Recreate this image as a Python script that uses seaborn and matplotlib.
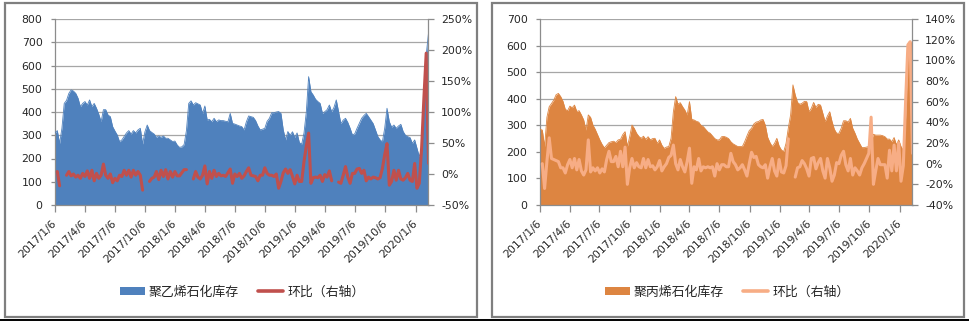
import numpy as np
import pandas as pd
import matplotlib
matplotlib.use('Agg')
import matplotlib.pyplot as plt
import seaborn as sns
from matplotlib.patches import Patch, Rectangle
from matplotlib.lines import Line2D
from matplotlib.ticker import FuncFormatter, MultipleLocator

nan = np.nan

# weekly observation dates (Fridays)
dates = pd.date_range('2017-01-06', periods=163, freq='7D')

tick_labels = ['2017/1/6', '2017/4/6', '2017/7/6', '2017/10/6', '2018/1/6', '2018/4/6',
               '2018/7/6', '2018/10/6', '2019/1/6', '2019/4/6', '2019/7/6', '2019/10/6', '2020/1/6']

pe_stock = [310, 320, 265, 330, 437, 450, 480, 495, 490, 480,
            459, 423, 437, 445, 430, 452, 423, 437, 416, 390,
            358, 410, 410, 387, 380, 337, 318, 301, 272, 280,
            295, 310, 320, 305, 320, 310, 323, 330, 262, 315,
            344, 320, 312, 305, 291, 297, 291, 297, 287, 287,
            280, 273, 275, 258, 248, 250, 260, 320, 437, 448,
            430, 440, 435, 430, 394, 426, 366, 368, 358, 373,
            358, 366, 363, 363, 360, 358, 394, 351, 348, 344,
            340, 337, 323, 358, 383, 380, 377, 363, 340, 323,
            326, 330, 360, 373, 397, 397, 400, 402, 394, 323,
            280, 316, 300, 315, 291, 310, 268, 262, 310, 400,
            552, 487, 473, 455, 445, 437, 394, 401, 410, 430,
            401, 420, 452, 401, 350, 365, 373, 355, 330, 301,
            306, 330, 351, 373, 385, 394, 380, 365, 350, 323,
            295, 280, 272, 330, 416, 358, 335, 344, 330, 340,
            347, 316, 300, 294, 290, 265, 280, 244, 208, 244,
            459, 645, 740]

pe_ratio = [nan, 4, -19, nan, nan, -2, 4, -3, 0, -5,
            -2, -7, 1, -4, 5, -7, 6, -11, 1, -7,
            -2, 16, -2, -7, 0, -14, -7, -11, -2, -4,
            6, -2, 6, -5, 6, -2, 4, -2, -26, nan,
            nan, -12, -7, -5, 4, -9, 6, -4, 7, -8,
            4, -5, 4, -3, -3, 2, 7, 7, nan, nan,
            -8, 4, -5, -8, -2, 13, -16, 4, -7, 6,
            -4, 1, -3, -2, -4, 2, 8, -15, 0, -4,
            1, -7, -3, 4, 10, -2, -3, -4, -11, -2,
            -2, 10, 1, -2, -2, -4, 0, -23, -12, 2,
            8, 1, 7, -4, -16, -2, -12, -12, 20, 45,
            66, -15, -6, -5, -6, -2, -12, -1, -5, 5,
            -11, nan, nan, -13, -15, -2, 12, -5, -15, 1,
            1, 8, 9, 1, 6, -11, -5, -8, -5, -6,
            -8, -6, 9, 31, 49, -18, -12, 6, -10, 6,
            -8, -10, -6, 1, -10, -12, 17, -23, -15, 41,
            122, 195, 17]

pp_stock = [285, 282, 220, 330, 370, 382, 395, 415, 420, 408,
            390, 360, 355, 372, 366, 376, 352, 355, 339, 320,
            282, 339, 330, 301, 285, 265, 245, 228, 215, 225,
            235, 238, 240, 235, 245, 247, 265, 276, 220, 257,
            301, 288, 270, 258, 251, 259, 247, 257, 245, 250,
            251, 232, 245, 225, 213, 218, 220, 251, 351, 408,
            380, 385, 370, 357, 339, 389, 322, 320, 315, 312,
            300, 295, 285, 275, 270, 260, 250, 245, 245, 257,
            258, 255, 250, 238, 230, 225, 220, 220, 220, 238,
            260, 280, 289, 305, 312, 314, 320, 322, 300, 255,
            235, 220, 232, 251, 222, 207, 201, 232, 290, 340,
            452, 414, 386, 379, 383, 390, 389, 351, 364, 386,
            367, 379, 376, 345, 314, 335, 351, 314, 285, 270,
            270, 289, 317, 317, 312, 326, 289, 270, 248, 232,
            216, 216, 218, 220, 238, 266, 263, 263, 263, 261,
            257, 248, 248, 238, 254, 226, 245, 220, 205, 330,
            580, 615, 608]

pp_ratio = [nan, 0, -24, 2, 25, 5, 4, 3, 2, -4,
            -4, -9, -1, 4, -4, 5, -6, 4, -7, -11,
            -6, 23, -8, -4, -7, -4, -9, -5, -8, 4,
            12, 2, 2, 7, -3, 12, -3, 16, -20, -4,
            5, -4, 1, -3, -4, 5, -4, 4, -3, -2,
            -6, -3, 3, -7, -3, 0, 6, 8, 18, 0,
            -6, 4, -3, -8, 2, 15, -19, -3, -6, 5,
            -7, -3, -4, -3, -4, -3, -12, 0, -6, -1,
            -1, -3, -3, 10, 2, -1, -6, -4, -1, -6,
            -12, 0, 11, 6, 7, -1, -3, -4, -1, -14,
            -3, 5, -7, -12, 4, -8, -9, -2, 24, nan,
            nan, -13, -4, -3, 3, 0, -5, -12, 5, 6,
            -5, 1, 5, -7, -14, 5, -4, -17, -11, 1,
            0, 8, 12, -1, -7, 5, -11, -4, -7, -11,
            -4, 0, 5, 10, 45, -20, -7, 5, -1, -1,
            -1, -14, 13, -7, 18, -7, 20, -17, -2, 60,
            115, 118, 10]

sns.set_theme(style='white')
plt.rcParams['font.family'] = ['DejaVu Sans', 'Noto Sans CJK SC']
CJK = ['Noto Sans CJK SC', 'DejaVu Sans']

W, H = 970, 322
fig = plt.figure(figsize=(W / 100, H / 100), dpi=100)
fig.patch.set_facecolor('white')

GRID = '#a6a6a6'
AXC = '#8c8c8c'
TXT = '#262626'


def panel(x0, x1, stock, ratio, area_c, line_c, ymax, rmin, rmax, rstep,
          stock_name, ratio_name, leg_x):
    rect = [x0 / W, 1 - 205 / H, (x1 - x0) / W, (205 - 19) / H]
    ax = fig.add_axes(rect)
    df = pd.DataFrame({'date': dates, 'stock': stock, 'ratio': ratio})
    ax.fill_between(df['date'], df['stock'], 0, color=area_c, lw=0, zorder=2)
    sns.lineplot(data=df, x='date', y='stock', ax=ax, color=area_c, lw=0.6, zorder=3)
    ax.set_ylim(0, ymax)
    ax.yaxis.set_major_locator(MultipleLocator(100))
    ax.set_xlim(dates[0], dates[-1])
    ax.yaxis.grid(True, color=GRID, lw=0.9)
    ax.xaxis.grid(False)
    ax.set_axisbelow(True)
    ax.set_xlabel('')
    ax.set_ylabel('')
    tick_dates = pd.to_datetime([s.replace('/', '-') for s in tick_labels], format='%Y-%m-%d')
    ax.set_xticks(tick_dates)
    ax.set_xticklabels(tick_labels, rotation=45, ha='right', va='center',
                       rotation_mode='anchor', fontsize=7.8, color=TXT)
    ax.tick_params(axis='x', length=5, width=0.9, color=AXC, direction='out', pad=7, bottom=True)
    ax.tick_params(axis='y', length=3, width=0.9, color=AXC, direction='out', pad=6,
                   labelsize=7.8, labelcolor=TXT, left=True)
    for s in ['top', 'right']:
        ax.spines[s].set_visible(False)
    for s in ['left', 'bottom']:
        ax.spines[s].set_color(AXC)
        ax.spines[s].set_linewidth(0.9)

    ax2 = ax.twinx()
    seg = df['ratio'].isna().cumsum()
    ldf = df.assign(seg=seg).dropna(subset=['ratio'])
    sns.lineplot(data=ldf, x='date', y='ratio', units='seg', estimator=None,
                 ax=ax2, color=line_c, lw=2.2, legend=False)
    ax2.set_ylim(rmin, rmax)
    ax2.yaxis.set_major_locator(MultipleLocator(rstep))
    ax2.yaxis.set_major_formatter(FuncFormatter(lambda v, p: f'{v:.0f}%'))
    ax2.set_ylabel('')
    ax2.set_xlim(dates[0], dates[-1])
    ax2.grid(False)
    ax2.tick_params(axis='y', length=4, width=0.9, color=AXC, direction='out', pad=5,
                    labelsize=7.8, labelcolor=TXT, right=True)
    for s in ['top', 'left', 'bottom']:
        ax2.spines[s].set_visible(False)
    ax2.spines['right'].set_color(AXC)
    ax2.spines['right'].set_linewidth(0.9)

    handles = [Patch(facecolor=area_c, edgecolor='none'),
               Line2D([0], [0], color=line_c, lw=2.6)]
    fig.legend(handles, [stock_name, ratio_name], loc='center',
               bbox_to_anchor=(leg_x / W, 1 - 292 / H), ncol=2, frameon=False,
               prop={'family': CJK, 'size': 9.3}, handlelength=1.95, handleheight=0.65,
               handletextpad=0.3, columnspacing=1.5, labelcolor=TXT)
    return ax, ax2


panel(55, 428.5, pe_stock, pe_ratio, '#4f81bd', '#c0504d', 800, -50, 250, 50,
      '聚乙烯石化库存', '环比（右轴）', 242)
panel(540, 912.5, pp_stock, pp_ratio, '#dd8541', '#f7ad85', 700, -40, 140, 20,
      '聚丙烯石化库存', '环比（右轴）', 727)

# panel frames
for (fx0, fx1) in [(5, 477), (492, 964)]:
    fig.add_artist(Rectangle((fx0 / W, 1 - 317 / H), (fx1 - fx0) / W, (317 - 3) / H,
                             transform=fig.transFigure, fill=False, ec='#7f7f7f', lw=1.6))
fig.add_artist(Line2D([0, 1], [1 - 320 / H, 1 - 320 / H], transform=fig.transFigure,
                      color='black', lw=1.4))

fig.savefig('out.png', dpi=100, facecolor='white')
